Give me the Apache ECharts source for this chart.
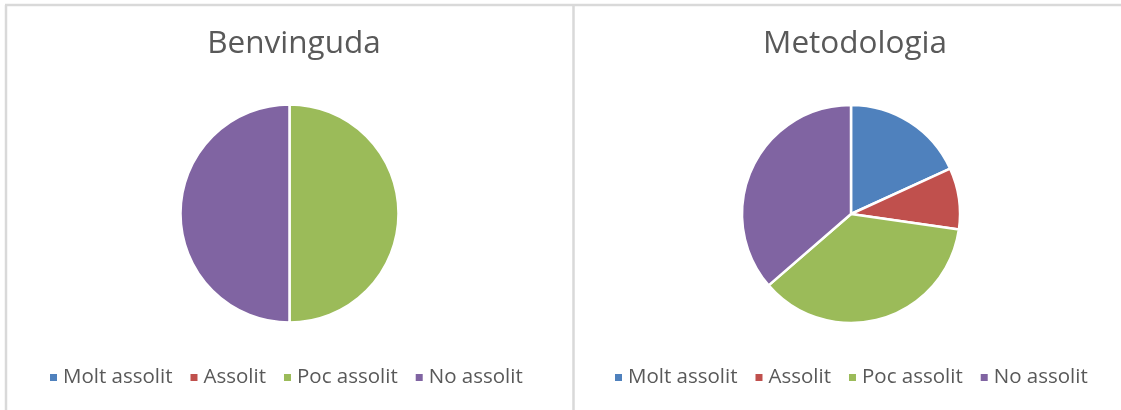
<!DOCTYPE html>
<html>
<head>
<meta charset="utf-8">
<script src="https://cdn.jsdelivr.net/npm/echarts@6/dist/echarts.min.js"></script>
<style>
    html, body { margin: 0; padding: 0; background: #fff; }
    #chart { width: 1121px; height: 410px; }
</style>
</head>
<body>
<div id="chart"></div>
<script type="text/javascript">
    // categories and values
    var categories = ['Molt assolit', 'Assolit', 'Poc assolit', 'No assolit'];
    var colors = ['#4F81BD', '#C0504D', '#9BBB59', '#8064A2'];
    var benvingudaValues = [0, 0, 1, 1];
    var metodologiaValues = [2, 1, 4, 4];
    var titles = ['Benvinguda', 'Metodologia'];

    var textColor = '#595959';
    var fontFamily = "'Open Sans', 'Noto Sans', sans-serif";

    function buildData(values) {
        var data = [];
        for (var i = 0; i < categories.length; i++) {
            data.push({ name: categories[i], value: values[i] });
        }
        return data;
    }

    function pieSeries(values, center) {
        return {
            type: 'pie',
            radius: 109,
            center: center,
            startAngle: 90,
            clockwise: true,
            label: { show: false },
            labelLine: { show: false },
            emphasis: { disabled: true },
            itemStyle: { borderColor: '#fff', borderWidth: 2.5 },
            data: buildData(values)
        };
    }

    function legendAt(left) {
        return {
            left: left,
            top: 362,
            icon: 'rect',
            itemWidth: 9,
            itemHeight: 9,
            itemGap: 16,
            selectedMode: false,
            textStyle: { color: textColor, fontSize: 20.5, fontFamily: fontFamily },
            data: categories
        };
    }

    var titleStyle = { color: textColor, fontSize: 31.5, fontWeight: 'normal', fontFamily: fontFamily };

    var myChart = echarts.init(document.getElementById('chart'));
    var option = {
        color: colors,
        animation: false,
        title: [
            { text: titles[0], left: 289, top: 23, textAlign: 'center', textStyle: titleStyle },
            { text: titles[1], left: 850, top: 23, textAlign: 'center', textStyle: titleStyle }
        ],
        legend: [legendAt(43), legendAt(608)],
        graphic: [
            // frame lines
            { type: 'line', shape: { x1: 5, y1: 5, x2: 1121, y2: 5 }, style: { stroke: '#d9d9d9', lineWidth: 2.5 } },
            { type: 'line', shape: { x1: 6, y1: 5, x2: 6, y2: 410 }, style: { stroke: '#d9d9d9', lineWidth: 2.5 } },
            { type: 'line', shape: { x1: 573.5, y1: 5, x2: 573.5, y2: 410 }, style: { stroke: '#d9d9d9', lineWidth: 2.5 } }
        ],
        series: [
            pieSeries(benvingudaValues, [289.5, 213.5]),
            pieSeries(metodologiaValues, [851, 214])
        ]
    };
    myChart.setOption(option);
</script>
</body>
</html>
